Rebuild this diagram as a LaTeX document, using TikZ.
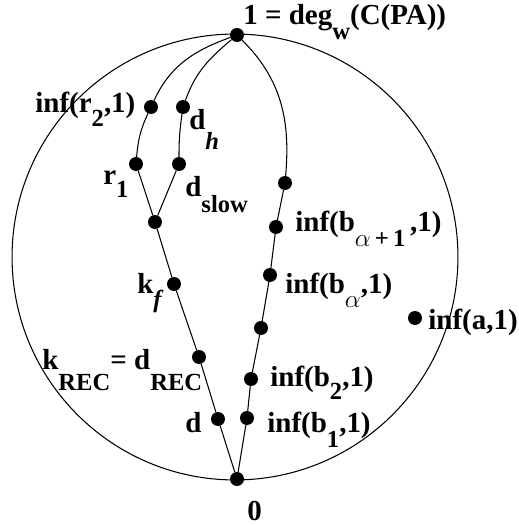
\documentclass[tikz,border=0pt]{standalone}
\usepackage{fontspec}
\setmainfont{Liberation Serif}
\newcommand\dn[2][8pt]{\raisebox{-#1}{\fontsize{14}{14}\selectfont #2}}

\begin{document}
\begin{tikzpicture}[x=0.02cm,y=0.02cm,line cap=round,line join=round,
  dot/.style={circle,fill=black,inner sep=0pt,minimum size=0.28cm},
  lbl/.style={inner sep=0pt,anchor=base west,font=\fontsize{16.5}{19}\selectfont\bfseries},
  wire/.style={line width=0.6pt}]
  \useasboundingbox (0,0) rectangle (519,525);

  % ---- outer circle ----
  \draw[wire] (235,268) circle (4.46cm);

  % ---- dots ----
  \node[dot] (top) at (237,490) {};
  \node[dot] (zero) at (237,46) {};
  % left branch
  \node[dot] (r2) at (151,418) {};
  \node[dot] (dh) at (183,418) {};
  \node[dot] (r1) at (136,361) {};
  \node[dot] (dslow) at (179,361) {};
  \node[dot] (join) at (155,303) {};
  \node[dot] (kf) at (174,241) {};
  \node[dot] (krec) at (199,168) {};
  \node[dot] (dd) at (218,106) {};
  % right branch
  \node[dot] (b0) at (285,342) {};
  \node[dot] (ba1) at (276,298) {};
  \node[dot] (ba) at (270,250) {};
  \node[dot] (bmid) at (261,197) {};
  \node[dot] (b2) at (251,146) {};
  \node[dot] (b1) at (247,107) {};
  % lone point
  \node[dot] (a) at (415,207) {};

  % ---- connectors ----
  \draw[wire] (top) to[out=200,in=65] (r2) to[out=245,in=85] (r1) -- (join);
  \draw[wire] (top) to[out=220,in=70] (dh) to[out=262,in=90] (dslow) -- (join);
  \draw[wire] (join) -- (kf) -- (krec) -- (dd) -- (zero);
  \draw[wire] (top) to[out=-45,in=85] (b0) -- (ba1) -- (ba) -- (bmid) -- (b2) -- (b1) -- (zero);

  % ---- labels ----
  \node[lbl] (ltop) at (243,500) {1 = deg\dn[8.5pt]{w}(C(PA))};
  \node[lbl] (lr2) at (35,412) {inf(r\dn[7.4pt]{2},1)};
  \node[lbl] (ldh) at (189,395) {d\dn[11pt]{\textit{h}}};
  \node[lbl] (lr1) at (103,340) {r\dn[7.4pt]{1}};
  \node[lbl] (ldslow) at (185,328) {d\dn[9pt]{slow}};
  \node[lbl] (lkf) at (137,232) {k\dn[8.5pt]{\textit{f}}};
  \node[lbl] (lkrec) at (42,155) {k\dn[11.4pt]{REC}= d\dn[11.4pt]{REC}};
  \node[lbl] (ld) at (185,92) {d};
  \node[lbl] (lb1) at (267,92) {inf(b\dn{1},1)};
  \node[lbl] (lb2) at (270,138) {inf(b\dn[7.4pt]{2},1)};
  \node[lbl] (lba) at (285,232) {inf(b\dn[8.5pt]{$\alpha$},1)};
  \node[lbl] (lba1) at (295,293) {inf(b\dn{$\alpha$\,+\,1}\,,1)};
  \node[lbl] (la) at (428,195) {inf(a,1)};
  \node[lbl] (lzero) at (247,5) {0};
\end{tikzpicture}
\end{document}
